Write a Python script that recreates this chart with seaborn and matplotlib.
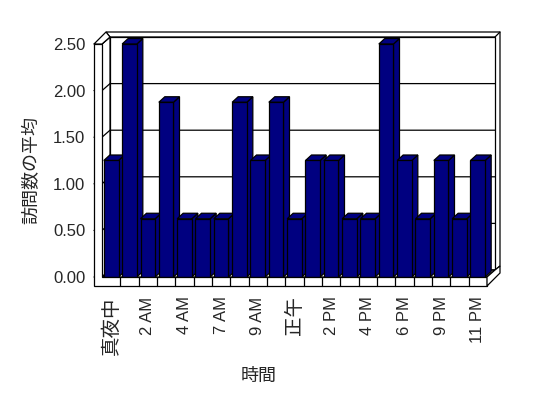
import numpy as np
import pandas as pd
import matplotlib
matplotlib.use('Agg')
import matplotlib.pyplot as plt
import matplotlib.transforms as mtransforms
from matplotlib.patches import Polygon
from matplotlib.lines import Line2D
import seaborn as sns

# ---- data ----
hours = ['真夜中', '1 AM', '2 AM', '3 AM', '4 AM', '6 AM', '7 AM', '8 AM', '9 AM',
         '11 AM', '正午', '1 PM', '2 PM', '3 PM', '4 PM', '5 PM', '6 PM', '8 PM',
         '9 PM', '10 PM', '11 PM']
values = [1.25, 2.5, 0.625, 1.875, 0.625, 0.625, 0.625, 1.875, 1.25, 1.875, 0.625,
          1.25, 1.25, 0.625, 0.625, 2.5, 1.25, 0.625, 1.25, 0.625, 1.25]
yticks = [0.0, 0.5, 1.0, 1.5, 2.0, 2.5]
ytick_labels = ['0.00', '0.50', '1.00', '1.50', '2.00', '2.50']
xlabel = '時間'
ylabel = '訪問数の平均'

sns.set_style('white')
plt.rcParams['font.family'] = ['Liberation Sans', 'Noto Sans CJK JP', 'DejaVu Sans']

W, H = 548, 398
fig = plt.figure(figsize=(W / 100, H / 100), dpi=100)
fig.patch.set_facecolor('white')
L, R, T, B = 102, 487, 44, 277
ax = fig.add_axes([L / W, 1 - B / H, (R - L) / W, (B - T) / H])
ax.patch.set_visible(False)
px = mtransforms.Affine2D().scale(1 / W, -1 / H).translate(0, 1) + fig.transFigure

DX, DY = 8, -7  # wall depth (pixels)
lw = 0.9

df = pd.DataFrame({'hour': hours, 'value': values})
sns.barplot(data=df, x='hour', y='value', color='#000080', saturation=1,
            width=0.8, edgecolor='black', linewidth=lw, ax=ax)
ax.set_xlim(-0.5, len(hours) - 0.5)
ax.set_ylim(0, 2.5)
fig.canvas.draw()


def poly(pts, z, fc='white'):
    ax.add_patch(Polygon(pts, closed=True, facecolor=fc, edgecolor='black',
                         linewidth=lw, transform=px, clip_on=False, zorder=z))


def line(xs, ys, z):
    ax.add_line(Line2D(xs, ys, color='black', linewidth=lw, transform=px,
                       clip_on=False, zorder=z))


# back wall (with thickness)
poly([(106, 32), (500, 32), (500, 266), (495, 270), (L + DX, B + DY), (L + DX, T + DY)], 0.1)
poly([(L + DX, T + DY), (R + DX, T + DY), (R + DX, B + DY), (L + DX, B + DY)], 0.15)
line([R + DX, 500], [T + DY, 32], 0.16)
# left wall inner face and floor top
poly([(L, T), (L + DX, T + DY), (L + DX, B + DY), (L, B)], 0.2)
poly([(L, B), (L + DX, B + DY), (R + DX, B + DY), (R, B)], 0.2)

# gridlines from the value scale
for v in yticks:
    y = H - ax.transData.transform((0, v))[1]
    line([94, L, L + DX, R + DX], [y, y, y + DY, y + DY], 0.3)

# left wall front + floor front face, left wall top, floor right face
poly([(94, T), (L, T), (L, B), (R, B), (R, 286), (94, 286)], 60)
poly([(94, T), (106, 32), (L + DX, T + DY), (L, T)], 60)
poly([(R, 286), (R, B), (R + DX, B + DY), (500, 266), (500, 273)], 60)

# floor dividers at category boundaries
bt = mtransforms.blended_transform_factory(ax.transData, px)
for k in range(1, len(hours)):
    ax.add_line(Line2D([k - 0.5, k - 0.5], [B, 286], color='black', linewidth=lw,
                       transform=bt, clip_on=False, zorder=61))

# 3-D faces on the bars
cat_px = (R - L) / len(hours)
val_px = (B - T) / 2.5
bdx = 6 / cat_px
bdy = 5.5 / val_px
for i, p in enumerate(ax.patches[:len(hours)]):
    x0 = p.get_x()
    x1 = x0 + p.get_width()
    h = p.get_height()
    p.set_zorder(10 + 2 * i + 1)
    p.set_clip_on(False)
    ax.add_patch(Polygon([(x1, 0), (x1 + bdx, bdy), (x1 + bdx, h + bdy), (x1, h)],
                         closed=True, facecolor='#000080', edgecolor='black',
                         linewidth=lw, clip_on=False, zorder=10 + 2 * i))
    ax.add_patch(Polygon([(x0, h), (x1, h), (x1 + bdx, h + bdy), (x0 + bdx, h + bdy)],
                         closed=True, facecolor='#000080', edgecolor='black',
                         linewidth=lw, clip_on=False, zorder=10 + 2 * i))

for s in ax.spines.values():
    s.set_visible(False)
ax.set_yticks(yticks, ytick_labels)
ax.set_xticks(range(0, len(hours), 2), hours[::2])
ax.tick_params(axis='y', length=0, pad=12, labelsize=12)
ax.tick_params(axis='x', length=0, pad=14, labelsize=12, labelrotation=90)
for t in ax.get_xticklabels():
    t.set_va('top')
    t.set_ha('center')
    if not t.get_text()[0].isdigit():
        t.set_fontsize(14)
ax.set_xlabel('')
ax.set_ylabel('')

fig.text(259 / W, 1 - 376 / H, xlabel, ha='center', va='center', fontsize=13)
fig.text(32 / W, 1 - 170 / H, ylabel, ha='center', va='center', fontsize=13,
         rotation=90)

fig.savefig('out.png', dpi=100)
